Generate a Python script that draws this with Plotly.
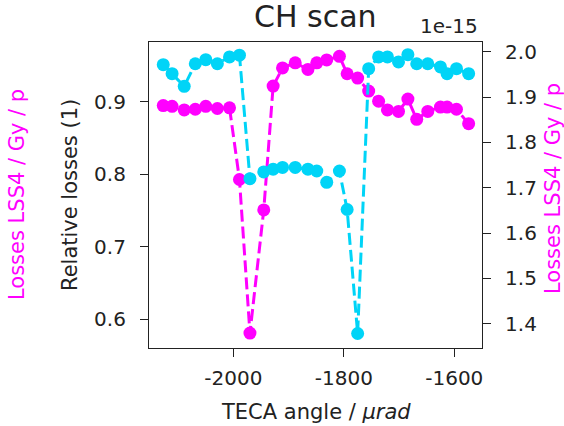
import plotly.graph_objects as go

# TECA angle (µrad)
angle = [-2127, -2111, -2089, -2069, -2050, -2029, -2007, -1989, -1970, -1945,
         -1928, -1911, -1888, -1865, -1849, -1831, -1808, -1794, -1775, -1755,
         -1737, -1721, -1701, -1684, -1668, -1648, -1625, -1613, -1596, -1574]

# Relative losses (left axis, magenta)
relative_losses = [0.895, 0.894, 0.889, 0.890, 0.894, 0.891, 0.892, 0.793, 0.581, 0.751,
                   0.922, 0.947, 0.954, 0.945, 0.954, 0.958, 0.963, 0.939, 0.933, 0.915,
                   0.901, 0.889, 0.887, 0.904, 0.876, 0.887, 0.893, 0.893, 0.890, 0.870]

# Losses LSS4 / Gy / p (right axis, cyan), in units of 1e-15
losses_gy_p = [1.972, 1.952, 1.924, 1.974, 1.983, 1.974, 1.989, 1.993, 1.720, 1.735,
               1.741, 1.745, 1.745, 1.741, 1.737, 1.712, 1.737, 1.652, 1.378, 1.963,
               1.989, 1.989, 1.978, 1.994, 1.974, 1.974, 1.967, 1.952, 1.963, 1.952]

x_ticks = [-2000, -1800, -1600]
x_ticktext = ["-2000", "-1800", "-1600"]
left_ticks = [0.6, 0.7, 0.8, 0.9]
right_ticks = [1.4, 1.5, 1.6, 1.7, 1.8, 1.9, 2.0]

MAGENTA = "#ff00ff"
CYAN = "#00d4f7"
FONT = "DejaVu Sans"
AXC = "#222222"

W, H = 564, 426

fig = go.Figure()
fig.add_trace(go.Scatter(
    x=angle, y=relative_losses, mode="lines+markers", yaxis="y",
    line=dict(color=MAGENTA, width=3, dash="12px,5px"),
    marker=dict(color=MAGENTA, size=13), showlegend=False))
fig.add_trace(go.Scatter(
    x=angle, y=losses_gy_p, mode="lines+markers", yaxis="y2",
    line=dict(color=CYAN, width=3, dash="12px,5px"),
    marker=dict(color=CYAN, size=13), showlegend=False))

axis_common = dict(showgrid=False, zeroline=False, showline=True, linecolor=AXC,
                   linewidth=1.2, ticks="outside", ticklen=8, tickwidth=1.2,
                   tickcolor=AXC, tickfont=dict(family=FONT, size=20, color=AXC))

fig.update_layout(
    width=W, height=H,
    margin=dict(l=149, r=82, t=42, b=78),
    paper_bgcolor="white", plot_bgcolor="white",
    font=dict(family=FONT, color=AXC),
    xaxis=dict(range=[-2152.8, -1549.8], tickvals=x_ticks, ticktext=x_ticktext,
               mirror=True, ticklabelstandoff=4, **axis_common),
    yaxis=dict(range=[0.5604, 0.9828], tickvals=left_ticks, tickformat=".1f",
               ticklabelstandoff=10, **axis_common),
    yaxis2=dict(range=[1.346, 2.022], tickvals=right_ticks, tickformat=".1f",
                overlaying="y", side="right", ticklabelstandoff=10, **axis_common),
    annotations=[
        dict(text="CH scan", xref="paper", yref="paper", x=0.5, y=1,
             xanchor="center", yanchor="middle", yshift=26, showarrow=False,
             font=dict(family=FONT, size=30, color=AXC)),
        dict(text="TECA angle / <i>μrad</i>", xref="paper", yref="paper", x=0.5, y=0,
             xanchor="center", yanchor="middle", yshift=-64, showarrow=False,
             font=dict(family=FONT, size=21, color=AXC)),
        dict(text="Relative losses (1)", xref="paper", yref="paper", x=0, y=0.5,
             xanchor="center", yanchor="middle", xshift=-79, textangle=-90,
             showarrow=False, font=dict(family=FONT, size=21, color=AXC)),
        dict(text="Losses LSS4 / Gy / p", xref="paper", yref="paper", x=0, y=0.5,
             xanchor="center", yanchor="middle", xshift=-132, textangle=-90,
             showarrow=False, font=dict(family=FONT, size=21, color=MAGENTA)),
        dict(text="Losses LSS4 / Gy / p", xref="paper", yref="paper", x=1, y=0.5,
             xanchor="center", yanchor="middle", xshift=71, yshift=6, textangle=-90,
             showarrow=False, font=dict(family=FONT, size=21, color=MAGENTA)),
        dict(text="1e-15", xref="paper", yref="paper", x=1, y=1,
             xanchor="right", yanchor="middle", xshift=-2, yshift=16,
             showarrow=False, font=dict(family=FONT, size=20, color=AXC)),
    ],
)

fig.write_html("out.html",
               config={"displayModeBar": False},
               post_script="document.body.style.margin='0';")
